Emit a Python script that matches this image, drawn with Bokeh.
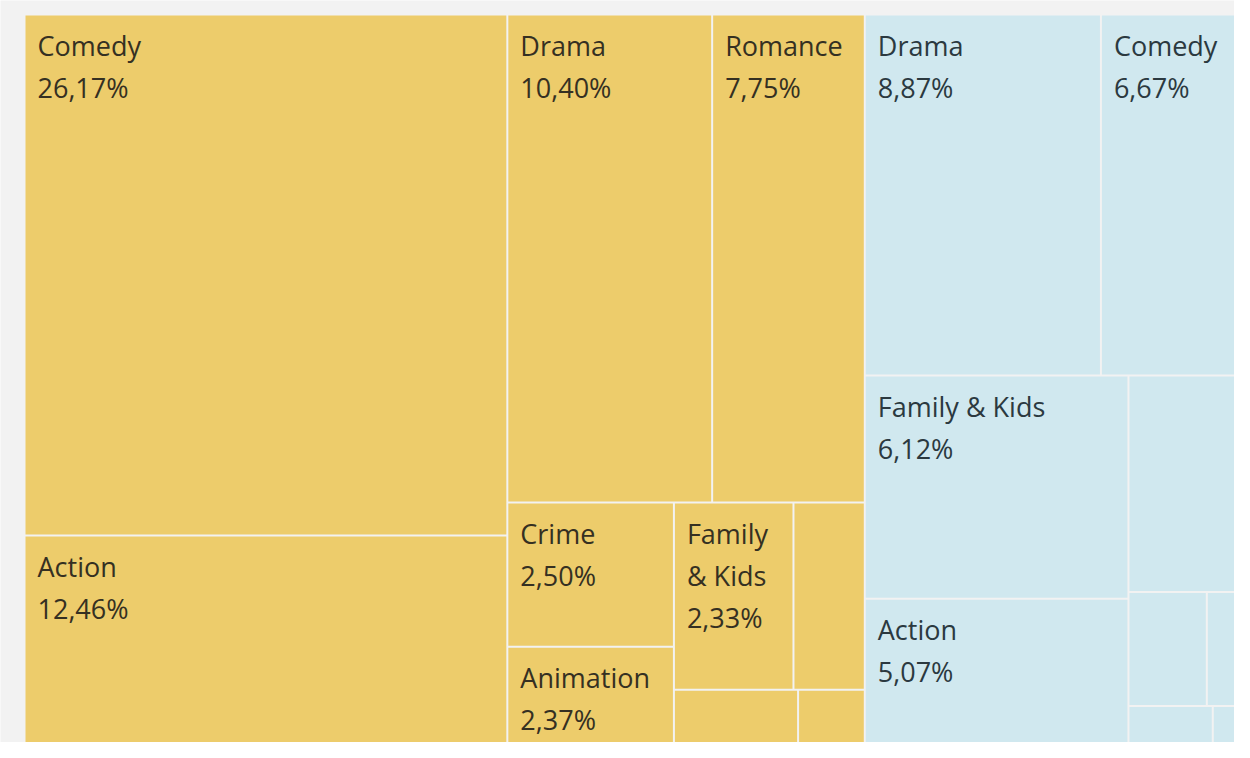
from bokeh.plotting import figure
from bokeh.models import ColumnDataSource, Range1d
from bokeh.core.properties import value
from bokeh.embed import file_html
from bokeh.resources import INLINE

# ---------------- data ----------------
groups = ["Movie", "TV Show"]
group_colors = ["#EDCC6B", "#D0E8EF"]
text_colors = ["#353022", "#2b3940"]

movie_genres = ["Comedy", "Action", "Drama", "Romance", "Crime", "Animation",
                "Family & Kids", "", "", ""]
movie_share = [26.17, 12.46, 10.40, 7.75, 2.50, 2.37, 2.33, 1.39, 1.21, 0.65]

tv_genres = ["Drama", "Comedy", "Family & Kids", "Action", "", "", "", "", ""]
tv_share = [8.87, 6.67, 6.12, 5.07, 3.38, 0.93, 0.85, 0.68, 0.53]

# nesting of the treemap (h = side by side, v = stacked), leaves are indices
movie_layout = ("h", [("v", [0, 1]),
                      ("v", [("h", [2, 3]),
                             ("h", [("v", [4, 5]),
                                    ("v", [("h", [6, 7]), ("h", [8, 9])])])])])
tv_layout = ("v", [("h", [0, 1]),
                   ("h", [("v", [2, 3]),
                          ("v", [4, ("h", [5, 6]), ("h", [7, 8])])])])

# ---------------- layout ----------------
ORIGIN_X, ORIGIN_Y = 24, 14
TOTAL_W, TOTAL_H = 1254, 769
GAP = 1.0
FONT_PX = 27
PAD_X, FIRST_BASE, LINE_STEP = 12, 30, 42


def node_sum(node, vals):
    if isinstance(node, int):
        return vals[node]
    return sum(node_sum(c, vals) for c in node[1])


def lay(node, vals, x0, y0, x1, y1, out):
    if isinstance(node, int):
        out[node] = (x0, y0, x1, y1)
        return
    d, kids = node
    tot = node_sum(node, vals)
    pos = x0 if d == "h" else y0
    for k in kids:
        frac = node_sum(k, vals) / tot
        if d == "h":
            w = (x1 - x0) * frac
            lay(k, vals, pos, y0, pos + w, y1, out)
            pos += w
        else:
            h = (y1 - y0) * frac
            lay(k, vals, x0, pos, x1, pos + h, out)
            pos += h


all_series = [(movie_genres, movie_share, movie_layout),
              (tv_genres, tv_share, tv_layout)]
grand = sum(sum(s) for _, s, _ in all_series)

quads = dict(left=[], right=[], top=[], bottom=[], color=[])
lines = dict(x=[], y=[], text=[], color=[])


def wrap(label, width):
    cw = 0.55 * FONT_PX
    words, out, cur = label.split(" "), [], ""
    for w in words:
        cand = (cur + " " + w).strip()
        if len(cand) * cw > width and cur:
            out.append(cur)
            cur = w
        else:
            cur = cand
    if cur:
        out.append(cur)
    return out


gx = ORIGIN_X
for gi, (names, shares, layout) in enumerate(all_series):
    gw = TOTAL_W * sum(shares) / grand
    rects = {}
    lay(layout, shares, gx, ORIGIN_Y, gx + gw, ORIGIN_Y + TOTAL_H, rects)
    for i in range(len(shares)):
        x0, y0, x1, y1 = rects[i]
        quads["left"].append(x0 + GAP)
        quads["right"].append(x1 - GAP)
        quads["top"].append(y0 + GAP)
        quads["bottom"].append(y1 - GAP)
        quads["color"].append(group_colors[gi])
        if names[i]:
            pct = f"{shares[i]:.2f}".replace(".", ",") + "%"
            txt = wrap(names[i], (x1 - x0) - 2 * PAD_X) + [pct]
            for li, t in enumerate(txt):
                lines["x"].append(x0 + GAP + PAD_X)
                lines["y"].append(y0 + GAP + FIRST_BASE + LINE_STEP * li)
                lines["text"].append(t)
                lines["color"].append(text_colors[gi])
    gx += gw

# ---------------- figure ----------------
p = figure(width=1234, height=742, output_backend="svg", toolbar_location=None,
           x_range=Range1d(0, 1234), y_range=Range1d(742, 0),
           x_axis_type=None, y_axis_type=None, min_border=0,
           background_fill_color="#F2F2F2", border_fill_color="#F2F2F2")
p.grid.visible = False
p.outline_line_color = None

p.quad(left="left", right="right", top="top", bottom="bottom",
       fill_color="color", line_color=None, source=ColumnDataSource(quads))
p.text(x="x", y="y", text="text", text_color="color",
       text_font=value("Open Sans"), text_font_size=f"{FONT_PX}px",
       text_baseline="alphabetic", text_align="left",
       source=ColumnDataSource(lines))

open("out.html", "w").write(file_html(p, INLINE))
